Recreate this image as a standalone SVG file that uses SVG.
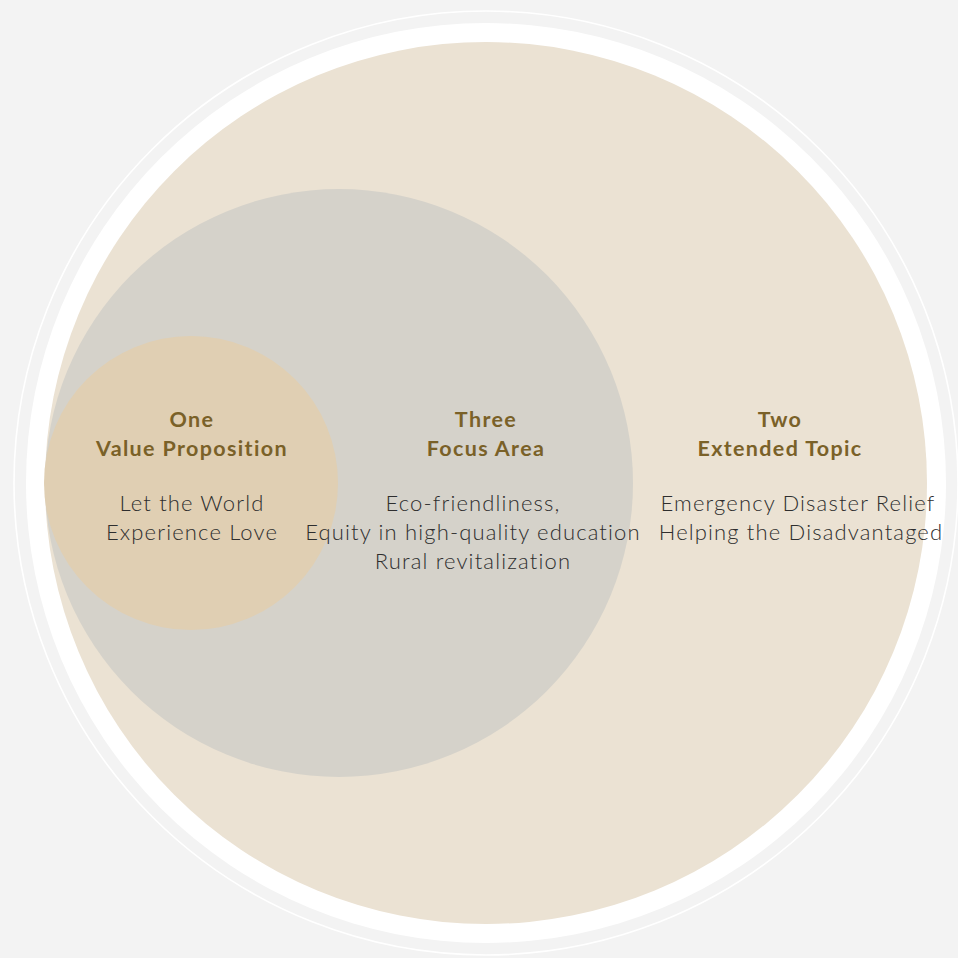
<svg xmlns="http://www.w3.org/2000/svg" width="958" height="958" viewBox="0 0 958 958">
<style>
.t{font-family:Lato,"Open Sans","Liberation Sans",sans-serif;font-weight:700;font-size:21.5px;letter-spacing:1.35px;fill:#7a6128;text-anchor:middle}
.b{font-family:Lato,"Open Sans","Liberation Sans",sans-serif;font-weight:300;font-size:22px;letter-spacing:1.15px;fill:#2e2e2e;text-anchor:middle}
</style>
<rect width="958" height="958" fill="#f3f3f3"/>
<circle cx="486" cy="483" r="472" fill="none" stroke="#ffffff" stroke-width="1.6"/>
<circle cx="486" cy="483" r="460" fill="#ffffff"/>
<g id="two">
<circle cx="486" cy="483" r="441" fill="#ebe2d3"/>
</g>
<g id="three">
<circle cx="339" cy="483" r="294" fill="#d5d2ca"/>
</g>
<g id="one">
<circle cx="191" cy="483" r="147" fill="#e0cfb3"/>
</g>
<g id="connectors"/>
<g id="one-text">
<text class="t" x="192" y="427">One</text>
<text class="t" x="192" y="456">Value Proposition</text>
<text class="b" x="192" y="511">Let the World</text>
<text class="b" x="192" y="540">Experience Love</text>
</g>
<g id="three-text">
<text class="t" x="486" y="427">Three</text>
<text class="t" x="486" y="456">Focus Area</text>
<text class="b" x="473" y="511">Eco-friendliness,</text>
<text class="b" x="473" y="540">Equity in high-quality education</text>
<text class="b" x="473" y="569">Rural revitalization</text>
</g>
<g id="two-text">
<text class="t" x="780" y="427">Two</text>
<text class="t" x="780" y="456">Extended Topic</text>
<text class="b" x="798" y="511">Emergency Disaster Relief</text>
<text class="b" x="801" y="540">Helping the Disadvantaged</text>
</g>
</svg>
